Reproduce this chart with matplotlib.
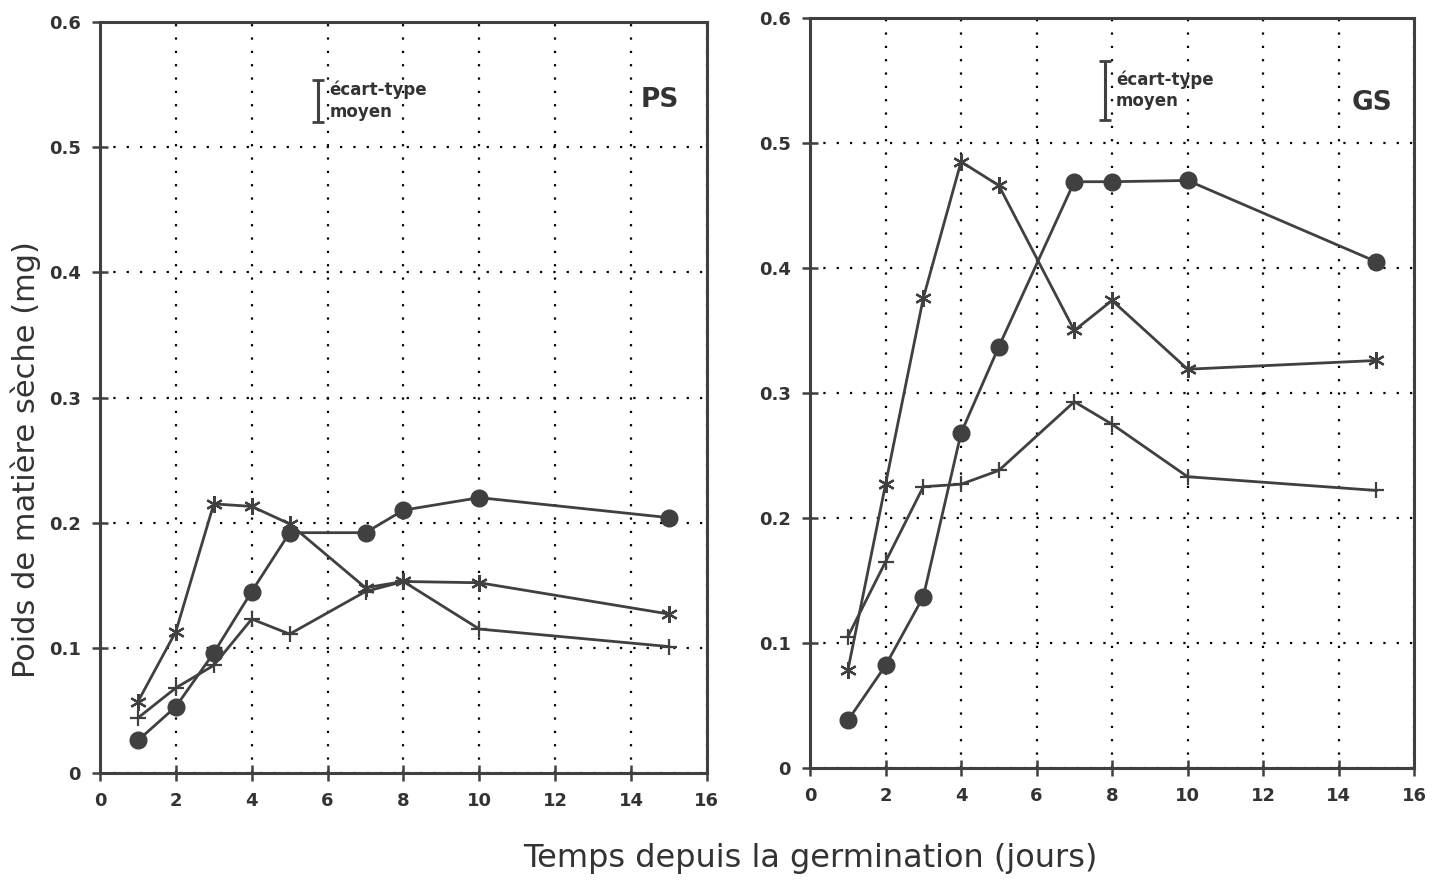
import numpy as np
import matplotlib.pyplot as plt

# days after germination
jours = [1, 2, 3, 4, 5, 7, 8, 10, 15]

# PS (petites semences), dry weight in mg
ps_rond = [0.026, 0.053, 0.096, 0.145, 0.192, 0.192, 0.210, 0.220, 0.204]
ps_etoile = [0.057, 0.113, 0.215, 0.213, 0.199, 0.148, 0.153, 0.152, 0.127]
ps_croix = [0.044, 0.068, 0.086, 0.123, 0.111, 0.145, 0.153, 0.115, 0.101]

# GS (grosses semences)
gs_rond = [0.038, 0.082, 0.137, 0.268, 0.337, 0.469, 0.469, 0.470, 0.405]
gs_etoile = [0.078, 0.227, 0.376, 0.485, 0.466, 0.350, 0.374, 0.319, 0.326]
gs_croix = [0.105, 0.165, 0.225, 0.227, 0.238, 0.293, 0.275, 0.233, 0.222]

# mean standard deviation shown as a bar
ecart_ps = 0.034
ecart_gs = 0.047

xticks = np.arange(0, 17, 2)
yticks = [0, 0.1, 0.2, 0.3, 0.4, 0.5, 0.6]
ylabels = ['0', '0.1', '0.2', '0.3', '0.4', '0.5', '0.6']

COL = '#404040'
plt.rcParams['font.family'] = ['DejaVu Sans']


def draw_panel(ax, rond, etoile, croix, nom, nom_pos, ecart, bar_x, bar_y):
    ax.plot(jours, croix, color=COL, lw=2, marker='+', ms=12, mew=1.6)
    ax.plot(jours, etoile, color=COL, lw=2, marker=(6, 2, 0), ms=12, mew=1.6)
    ax.plot(jours, rond, color=COL, lw=2, marker='o', ms=12, mec=COL)

    ax.set_xlim(0, 16)
    ax.set_ylim(0, 0.6)
    ax.set_xticks(xticks)
    ax.set_yticks(yticks)
    ax.set_yticklabels(ylabels)
    ax.grid(True, color='black', linestyle=(0, (1, 5)), lw=1.6)
    ax.tick_params(direction='inout', length=12, width=1.8, colors=COL,
                   labelsize=13, labelcolor='#333333', pad=8)
    for lab in ax.get_xticklabels() + ax.get_yticklabels():
        lab.set_fontweight('bold')
    for sp in ax.spines.values():
        sp.set_linewidth(2.2)
        sp.set_color(COL)

    ax.text(nom_pos[0], nom_pos[1], nom, transform=ax.transAxes, ha='center',
            va='center', fontsize=19, fontweight='bold', color='#333333')
    ax.errorbar([bar_x], [bar_y], yerr=[ecart / 2], fmt='none', ecolor=COL,
                elinewidth=2.2, capsize=4, capthick=2)
    ax.text(bar_x + 0.3, bar_y, 'écart-type\nmoyen', ha='left', va='center',
            fontsize=12, fontweight='bold', color='#333333', linespacing=1.25)


fig = plt.figure(figsize=(14.45, 8.81), dpi=100)
ax1 = fig.add_axes([0.0692, 0.1226, 0.4200, 0.8524])
ax2 = fig.add_axes([0.5606, 0.1283, 0.4180, 0.8513])

draw_panel(ax1, ps_rond, ps_etoile, ps_croix, 'PS', (0.922, 0.896),
           ecart_ps, 5.75, 0.537)
draw_panel(ax2, gs_rond, gs_etoile, gs_croix, 'GS', (0.930, 0.887),
           ecart_gs, 7.8, 0.542)

fig.text(0.018, 0.478, 'Poids de matière sèche (mg)', rotation=90,
         ha='center', va='center', fontsize=22, color='#333333')
fig.text(0.561, 0.026, 'Temps depuis la germination (jours)', ha='center',
         va='center', fontsize=23, color='#333333')

fig.savefig('out.png', dpi=100, facecolor='white')
